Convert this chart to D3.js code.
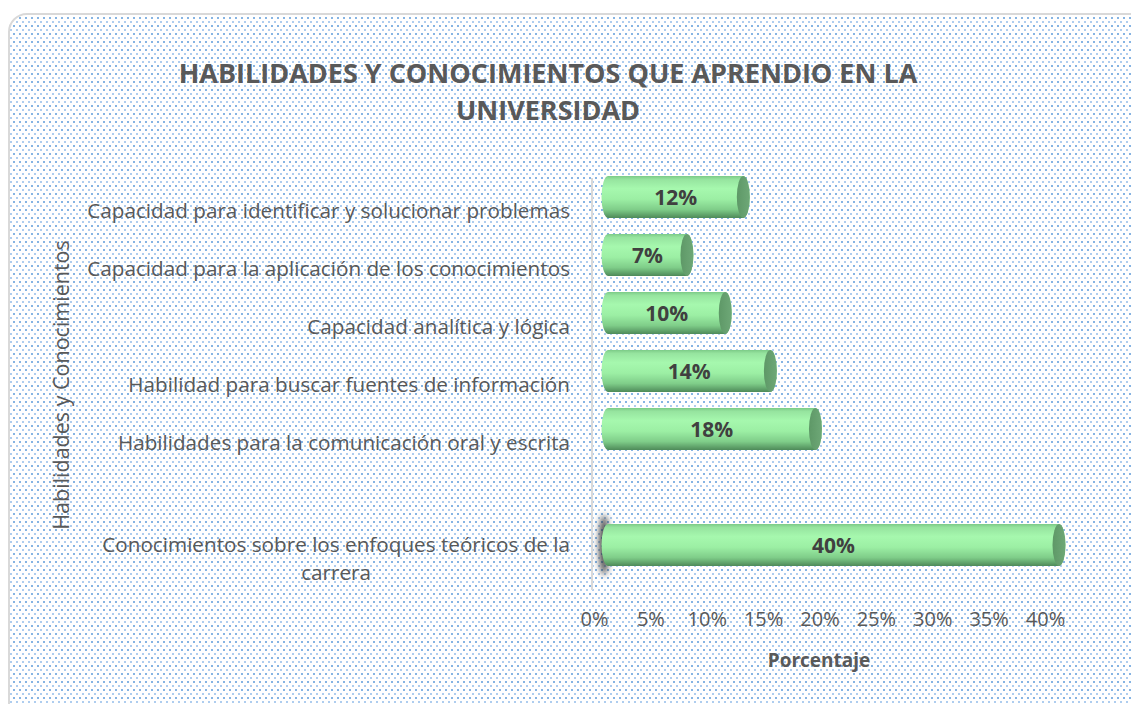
<!DOCTYPE html>
<html>
<head>
<meta charset="utf-8">
<script src="https://cdn.jsdelivr.net/npm/d3@7"></script>
<style>
  body { margin: 0; background: #fff; }
  text { font-family: "Open Sans", sans-serif; }
</style>
</head>
<body>
<div id="chart"></div>
<script>
// chart size
let w = 1131;
let h = 704;

// data
let categories = [
    "Capacidad para identificar y solucionar problemas",
    "Capacidad para la aplicación de los conocimientos",
    "Capacidad analítica y lógica",
    "Habilidad para buscar fuentes de información",
    "Habilidades para la comunicación oral y escrita",
    "",
    "Conocimientos sobre los enfoques teóricos de la|carrera"
];
let values = [12, 7, 10.4, 14.4, 18.4, null, 40];
let xTicks = [0, 5, 10, 15, 20, 25, 30, 35, 40];

let titleLines = ["HABILIDADES Y CONOCIMIENTOS QUE APRENDIO EN LA", "UNIVERSIDAD"];
let xTitle = "Porcentaje";
let yTitle = "Habilidades y Conocimientos";

let textColor = "#595959";
let depth = {dx: 14, dy: -14};   // fake 3D offset of the bars

var svg = d3.select("#chart")
    .append("svg")
    .attr("width", w)
    .attr("height", h);

var defs = svg.append("defs");

// dotted background
var pat = defs.append("pattern")
    .attr("id", "dots")
    .attr("width", 6)
    .attr("height", 8)
    .attr("patternUnits", "userSpaceOnUse");
pat.append("rect").attr("width", 6).attr("height", 8).attr("fill", "#fff");
pat.append("rect").attr("x", 1).attr("y", 1).attr("width", 2).attr("height", 2).attr("fill", "#86b4e3");
pat.append("rect").attr("x", 4).attr("y", 5).attr("width", 2).attr("height", 2).attr("fill", "#aecdef");

// cylinder gradients
var bodyGrad = defs.append("linearGradient")
    .attr("id", "body").attr("x1", 0).attr("y1", 0).attr("x2", 0).attr("y2", 1);
[["0%", "#7ccb87"], ["8%", "#96e49f"], ["30%", "#a6f8ae"], ["55%", "#9cefa4"],
 ["80%", "#7fcd89"], ["100%", "#4e8a59"]].forEach(function(s) {
    bodyGrad.append("stop").attr("offset", s[0]).attr("stop-color", s[1]);
});
var capGrad = defs.append("linearGradient")
    .attr("id", "cap").attr("x1", 0).attr("y1", 0).attr("x2", 1).attr("y2", 0);
capGrad.append("stop").attr("offset", "0%").attr("stop-color", "#5e9867");
capGrad.append("stop").attr("offset", "100%").attr("stop-color", "#6ea877");

var blur = defs.append("filter").attr("id", "blur")
    .attr("x", "-200%").attr("y", "-50%").attr("width", "500%").attr("height", "200%");
blur.append("feGaussianBlur").attr("stdDeviation", 3);

// background + border
svg.append("rect")
    .attr("x", 9).attr("y", 14)
    .attr("width", 1140).attr("height", 710)
    .attr("rx", 18)
    .attr("fill", "url(#dots)")
    .attr("stroke", "#d9d9d9")
    .attr("stroke-width", 2);

// scales
var x = d3.scaleLinear().domain([0, 40]).range([594, 1045]);
var y = d3.scaleBand()
    .domain(d3.range(categories.length))
    .range([182, 588])
    .paddingInner(0.276)
    .paddingOuter(0.138);

// title
svg.append("g").selectAll("text")
    .data(titleLines)
    .enter()
    .append("text")
    .attr("x", 548)
    .attr("y", function(d, i) { return 83 + i * 37; })
    .attr("text-anchor", "middle")
    .style("font-size", "27px")
    .style("font-weight", "bold")
    .style("fill", textColor)
    .text(function(d) { return d; });

// vertical axis line
svg.append("line")
    .attr("x1", 592).attr("x2", 592)
    .attr("y1", 178).attr("y2", 590)
    .attr("stroke", "#d9d9d9")
    .attr("stroke-width", 2);

// category labels
var labels = svg.append("g").selectAll("text")
    .data(categories)
    .enter()
    .append("text")
    .style("font-size", "20.7px")
    .style("fill", textColor);

labels.each(function(d, i) {
    var lines = d.split("|");
    var cy = y(i) + y.bandwidth() / 2;
    var t = d3.select(this);
    var firstW = 0;
    lines.forEach(function(line, j) {
        var offset = (j - (lines.length - 1) / 2) * 28;
        var span = t.append("tspan")
            .attr("y", cy + offset + 7)
            .text(line);
        if (j === 0) {
            span.attr("x", 570).attr("text-anchor", "end");
            firstW = span.node().getComputedTextLength();
        } else {
            // following lines are centred under the first one
            span.attr("x", 570 - firstW / 2).attr("text-anchor", "middle");
        }
    });
});

// bars (cylinders)
var bars = svg.append("g").selectAll("g")
    .data(values.map(function(v, i) { return {v: v, i: i}; }).filter(function(d) { return d.v !== null; }))
    .enter()
    .append("g");

var rx = 6.5;

bars.each(function(d) {
    var g = d3.select(this);
    var x0 = x(0) + depth.dx;
    var x1 = x(d.v) + depth.dx;
    var top = y(d.i) + depth.dy;
    var bh = y.bandwidth();
    var ry = bh / 2;

    if (d.i === categories.length - 1) {
        g.append("ellipse")
            .attr("cx", x0 - 4).attr("cy", top + ry)
            .attr("rx", 5).attr("ry", ry + 9)
            .attr("fill", "#2b2b2b")
            .attr("opacity", 0.85)
            .attr("filter", "url(#blur)");
    }

    g.append("path")
        .attr("d", "M" + x0 + "," + top +
            " L" + x1 + "," + top +
            " A" + rx + "," + ry + " 0 0 1 " + x1 + "," + (top + bh) +
            " L" + x0 + "," + (top + bh) +
            " A" + rx + "," + ry + " 0 0 1 " + x0 + "," + top + " Z")
        .attr("fill", "url(#body)");

    g.append("ellipse")
        .attr("cx", x1).attr("cy", top + ry)
        .attr("rx", rx).attr("ry", ry)
        .attr("fill", "url(#cap)");

    g.append("text")
        .attr("x", (x0 + x1) / 2)
        .attr("y", top + ry + 8)
        .attr("text-anchor", "middle")
        .style("font-size", "21px")
        .style("font-weight", "bold")
        .style("fill", "#404040")
        .text(Math.round(d.v) + "%");
});

// x axis labels
var xAxis = d3.axisBottom(x)
    .tickValues(xTicks)
    .tickFormat(function(d) { return d + "%"; })
    .tickSize(0)
    .tickPadding(0);

var gx = svg.append("g")
    .attr("transform", "translate(0,612)")
    .call(xAxis);
gx.select(".domain").remove();
gx.selectAll("text")
    .attr("font-family", null)
    .style("font-size", "20px")
    .style("fill", textColor);

// axis titles
svg.append("text")
    .attr("x", 819)
    .attr("y", 667)
    .attr("text-anchor", "middle")
    .style("font-size", "19px")
    .style("font-weight", "bold")
    .style("fill", textColor)
    .text(xTitle);

svg.append("text")
    .attr("transform", "translate(69,385) rotate(-90)")
    .attr("text-anchor", "middle")
    .style("font-size", "21.5px")
    .style("fill", textColor)
    .text(yTitle);
</script>
</body>
</html>
